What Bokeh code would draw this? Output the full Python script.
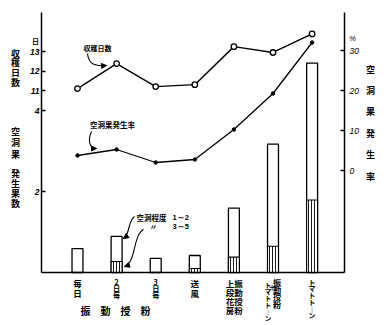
from bokeh.plotting import figure
from bokeh.models import (Range1d, LinearAxis, FixedTicker, Label, Arrow,
                          NormalHead, ColumnDataSource)
from bokeh.embed import file_html
from bokeh.resources import INLINE

# ---------------- data ----------------
categories = ["毎日", "2日毎", "3日毎", "送風",
              "振動授粉上段花房", "振動授粉＋トマトトーン", "トマトトーン"]
tick_label_columns = [["毎日"], ["2日毎"], ["3日毎"], ["送風"],
                      ["振動授粉", "上段花房"],
                      ["振動授粉", "＋", "トマトトーン"],
                      ["トマトトーン"]]
hollow_total = [0.59, 0.89, 0.35, 0.42, 1.59, 3.17, 5.17]    # 空洞果発生果数 (total)
hollow_severe = [0.0, 0.27, 0.0, 0.10, 0.38, 0.65, 1.79]     # 空洞程度 3~5
harvest_days = [11.1, 12.38, 11.2, 11.3, 13.25, 12.95, 13.9]  # 収穫日数
hollow_rate = [3.75, 5.25, 2.0, 2.75, 10.25, 19.25, 32.0]     # 空洞果発生率 %
days_ticks = [11, 12, 13]
count_ticks = [2, 4]
rate_ticks = [0, 10, 20, 30]

# ---------------- layout (pixels) ----------------
W, H = 387, 325
AX_L, AX_R, AX_T, AX_B = 41, 344, 12, 272   # where the drawn axes sit
XC0, XS = 77, 39.1        # pixel of first category, pixels per category
CS = 40.5                 # pixels per fruit count
D11, DS = 90, 19.5        # pixel of 11 days, pixels per day
P0PX, PS = 170, 4.0       # pixel of 0 %, pixels per %
JP = "Noto Sans CJK JP"
NUM = "Liberation Sans"
LH_K = 1.45               # CJK font line box relative to font size


def xd(px):
    return (px - XC0) / XS


def yc(py):
    return (AX_B - py) / CS


def days_to_c(d):
    return yc(D11 - (d - 11) * DS)


def pct_at(py):
    return (P0PX - py) / PS


def vert(s):
    return "\n".join("︱" if ch == "ー" else ch for ch in s)


p = figure(width=W, height=H, output_backend="svg", toolbar_location=None,
           x_range=Range1d(xd(0), xd(W)), y_range=Range1d(yc(H), yc(0)),
           min_border=0, min_border_left=0, min_border_right=0,
           min_border_top=0, min_border_bottom=0, x_axis_location=None,
           y_axis_location=None)
p.outline_line_color = None
p.grid.visible = False
p.background_fill_color = "white"
p.border_fill_color = "white"
p.extra_y_ranges = {
    "days": Range1d(11 - (H - D11) / DS, 11 + D11 / DS),
    "pct": Range1d(pct_at(H), pct_at(0)),
}

idx = list(range(len(categories)))
src = ColumnDataSource(dict(x=idx, total=hollow_total, severe=hollow_severe,
                            days=harvest_days, rate=hollow_rate))

# bars
BW = 0.28
p.vbar(x="x", width=BW, top="total", bottom=0, source=src,
       fill_color="white", line_color="black", line_width=1.3)
p.vbar(x="x", width=BW, top="severe", bottom=0, source=src,
       fill_color="white", hatch_pattern="vertical_line", hatch_scale=3,
       hatch_weight=0.9, hatch_color="black", line_color="black", line_width=1.1)

# lines
p.line(x="x", y="days", source=src, y_range_name="days", line_color="black", line_width=1.4)
p.scatter(x="x", y="days", source=src, y_range_name="days", size=5.5,
          fill_color="white", line_color="black", line_width=1.3)
p.line(x="x", y="rate", source=src, y_range_name="pct", line_color="black", line_width=1.3)
p.scatter(x="x", y="rate", source=src, y_range_name="pct", size=3.5,
          fill_color="black", line_color="black")

# left axis (fruit count + harvest days)
left_ticks = [float(c) for c in count_ticks] + [days_to_c(d) for d in days_ticks]
left_labels = [str(c) for c in count_ticks] + [str(d) for d in days_ticks]
ya = LinearAxis(ticker=FixedTicker(ticks=left_ticks), fixed_location=xd(AX_L),
                bounds=(0, yc(AX_T)))
ya.major_label_overrides = dict(zip(left_ticks, left_labels))
ya.major_tick_in = 4
ya.major_tick_out = 0
ya.minor_tick_line_color = None
ya.axis_line_width = 1.5
ya.major_tick_line_width = 1.3
ya.major_label_standoff = 2
ya.major_label_text_font = NUM
ya.major_label_text_font_style = "bold italic"
ya.major_label_text_font_size = "8.5px"
ya.major_label_text_color = "black"
p.add_layout(ya, "left")

# right axis (rate %)
ra = LinearAxis(y_range_name="pct", ticker=FixedTicker(ticks=rate_ticks),
                fixed_location=xd(AX_R), bounds=(pct_at(AX_B), pct_at(AX_T)))
ra.major_tick_in = 4
ra.major_tick_out = 0
ra.minor_tick_line_color = None
ra.axis_line_width = 1.5
ra.major_tick_line_width = 1.3
ra.major_label_standoff = 5
ra.major_label_text_font = NUM
ra.major_label_text_font_style = "italic"
ra.major_label_text_font_size = "8.5px"
ra.major_label_text_color = "black"
p.add_layout(ra, "right")

# bottom axis
xa = LinearAxis(ticker=FixedTicker(ticks=[]), fixed_location=0,
                bounds=(xd(AX_L), xd(AX_R)))
xa.major_tick_line_color = None
xa.minor_tick_line_color = None
xa.axis_line_width = 1.5
xa.major_label_text_font_size = "0px"
p.add_layout(xa, "below")


def lab(px, py, text, size, align="center", baseline="middle", spacing=None,
        font=JP, style="bold"):
    lh = 1.2 if spacing is None else spacing / (LH_K * size)
    p.add_layout(Label(x=xd(px), y=yc(py), text=text, text_align=align,
                       text_baseline=baseline, text_font=font,
                       text_font_style=style, text_font_size=f"{size}px",
                       text_line_height=round(lh, 3), text_color="black"))


# x tick labels (vertical writing)
for i, cols in enumerate(tick_label_columns):
    cx = XC0 + XS * i
    if len(cols) == 1:
        specs = [(0, 276, cols[0], 21 if i < 4 else 41)]
    elif len(cols) == 2:
        specs = [(4.5, 276, cols[0], 37), (-4, 276, cols[1], 37)]
    else:
        specs = [(4, 276, cols[0], 32), (-1, 281, cols[1], 7), (-5, 279, cols[2], 39)]
    for dx, top, s, target in specs:
        n = len(s)
        sp = target / n
        fs = min(8.5, sp * 1.02)
        lab(cx + dx, top, vert(s), round(fs, 2), baseline="top", spacing=sp)

# axis titles
lab(115, 310, "振　動　授　粉", 10)
lab(15, 46, vert("収穫日数"), 9, baseline="top", spacing=9.8)
lab(15, 124, vert("空洞果"), 9, baseline="top", spacing=12)
lab(15, 166, vert("発生果数"), 9, baseline="top", spacing=10.2)
lab(370, 62, vert("空洞果発生率"), 9, baseline="top", spacing=21.5)
lab(35, 40, "日", 7)
lab(352, 38, "%", 7.5, font=NUM, style="italic")

# annotations
lab(97, 47, "収穫日数", 7)
lab(112, 124, "空洞果発生率", 7.5)
lab(136, 217, "空洞程度", 7.5, align="left")
lab(172, 217, "1～2", 7.5, align="left", font=NUM)
lab(153, 226, "〃", 7.5)
lab(172, 226, "3～5", 7.5, align="left", font=NUM)

curves = [  # start, cp0, cp1, end (pixel positions)
    ((87, 53), (88, 64), (95, 66), (106, 65)),
    ((91, 131), (87, 140), (89, 148), (96, 148)),
    ((134, 216), (127, 221), (130, 233), (123, 238)),
    ((143, 229), (132, 235), (136, 262), (124, 266)),
]
for (s0, c0, c1, e) in curves:
    p.bezier(x0=[xd(s0[0])], y0=[yc(s0[1])], x1=[xd(e[0])], y1=[yc(e[1])],
             cx0=[xd(c0[0])], cy0=[yc(c0[1])], cx1=[xd(c1[0])], cy1=[yc(c1[1])],
             line_color="black", line_width=1.1)
    sx = e[0] - 0.35 * (e[0] - c1[0])
    sy = e[1] - 0.35 * (e[1] - c1[1])
    p.add_layout(Arrow(end=NormalHead(size=5, fill_color="black", line_color="black"),
                       x_start=xd(sx), y_start=yc(sy), x_end=xd(e[0]), y_end=yc(e[1]),
                       line_width=1.1, line_color="black"))

open("out.html", "w").write(file_html(p, INLINE))
